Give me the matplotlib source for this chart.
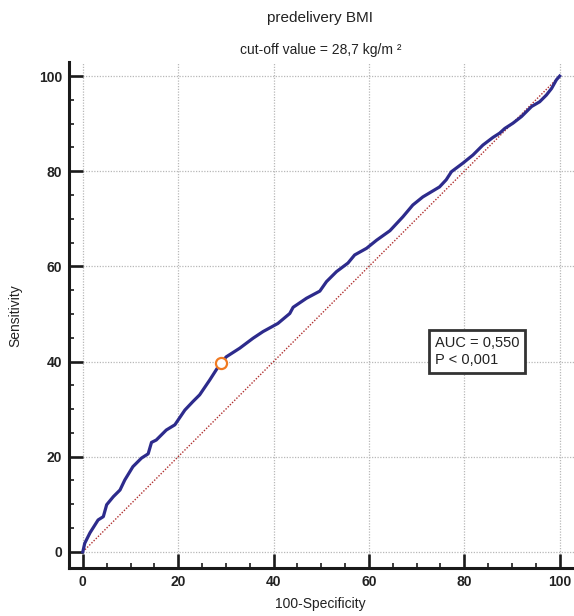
import matplotlib
matplotlib.use("Agg")
import matplotlib.pyplot as plt
from matplotlib.ticker import MultipleLocator

plt.rcParams['font.family'] = ['Liberation Sans', 'DejaVu Sans']

# ROC curve (100-Specificity, Sensitivity)
fpr = [0, 0.4, 1.5, 3.2, 4.3, 5.0, 6.4, 7.8, 8.8, 10.5, 12.3, 13.7, 14.4, 15.4,
       17.5, 19.3, 21.4, 23.1, 24.5, 26.6, 28.9, 30.1, 32.9, 35.7, 37.8, 40.9,
       43.4, 44.1, 46.9, 49.7, 51.1, 53.2, 55.6, 57.0, 59.5, 61.6, 64.4, 67.1,
       69.2, 71.3, 74.8, 76.2, 77.3, 79.7, 81.8, 83.9, 86.0, 87.4, 88.5, 90.2,
       92.0, 94.1, 95.8, 97.2, 98.3, 99.3, 100]
tpr = [0, 1.8, 4.0, 6.7, 7.4, 9.9, 11.6, 13.0, 15.1, 17.9, 19.7, 20.6, 23.0, 23.5,
       25.6, 26.7, 29.8, 31.6, 33.0, 36.1, 39.7, 41.0, 42.8, 44.9, 46.3, 48.0,
       50.1, 51.4, 53.3, 54.8, 56.8, 58.9, 60.7, 62.4, 63.8, 65.5, 67.5, 70.4,
       72.9, 74.6, 76.7, 78.2, 79.9, 81.7, 83.4, 85.5, 87.1, 88.0, 89.0, 90.1,
       91.5, 93.6, 94.6, 96.0, 97.4, 99.2, 100]
cutoff = (28.9, 39.7)
auc_text = "AUC = 0,550\nP < 0,001"

fig = plt.figure(figsize=(5.74, 6.16), dpi=100)
ax = fig.add_axes([0.1202, 0.0779, 0.8798, 0.821])

ax.plot([0, 100], [0, 100], color='#b03030', lw=1.0, ls=(0, (1, 1.2)), zorder=2)
ax.plot(fpr, tpr, color='#2d2b8c', lw=2.3, solid_joinstyle='round', zorder=3)
ax.plot(*cutoff, 'o', ms=8, mfc='white', mec='#f07a22', mew=1.6, zorder=4)

ax.set_xlim(-2.9, 103)
ax.set_ylim(-3.4, 102.9)
ax.xaxis.set_major_locator(MultipleLocator(20))
ax.yaxis.set_major_locator(MultipleLocator(20))
ax.xaxis.set_minor_locator(MultipleLocator(5))
ax.yaxis.set_minor_locator(MultipleLocator(5))
ax.set_xticks([0, 20, 40, 60, 80, 100])
ax.set_yticks([0, 20, 40, 60, 80, 100])

ax.grid(True, which='major', color='#b8b8b8', ls=(0, (1, 1.2)), lw=0.9)
for s in ['top', 'right']:
    ax.spines[s].set_visible(False)
for s in ['left', 'bottom']:
    ax.spines[s].set_linewidth(2.2)
    ax.spines[s].set_color('#1a1a1a')

ax.tick_params(which='major', direction='in', length=10, width=1.9, color='#1a1a1a',
               labelsize=10, pad=5)
ax.tick_params(which='minor', direction='in', length=3.8, width=1.2, color='#1a1a1a')
for lab in ax.get_xticklabels() + ax.get_yticklabels():
    lab.set_fontweight('bold')
    lab.set_color('#222222')

ax.text(73.8, 45.4, auc_text, fontsize=10.5, va='top', ha='left', linespacing=1.3,
        color='#222222',
        bbox=dict(boxstyle='square,pad=0.4', fc='white', ec='#333333', lw=2.0),
        zorder=5)

fig.text(0.558, 0.971, "predelivery BMI", ha='center', va='center', fontsize=11,
         color='#222222')
fig.text(0.558, 0.919, "cut-off value = 28,7 kg/m ²", ha='center', va='center',
         fontsize=10, color='#222222')
fig.text(0.558, 0.020, "100-Specificity", ha='center', va='center', fontsize=10,
         color='#222222')
fig.text(0.026, 0.487, "Sensitivity", ha='center', va='center', rotation=90,
         fontsize=10, color='#222222')

fig.savefig("out.png", dpi=100)
